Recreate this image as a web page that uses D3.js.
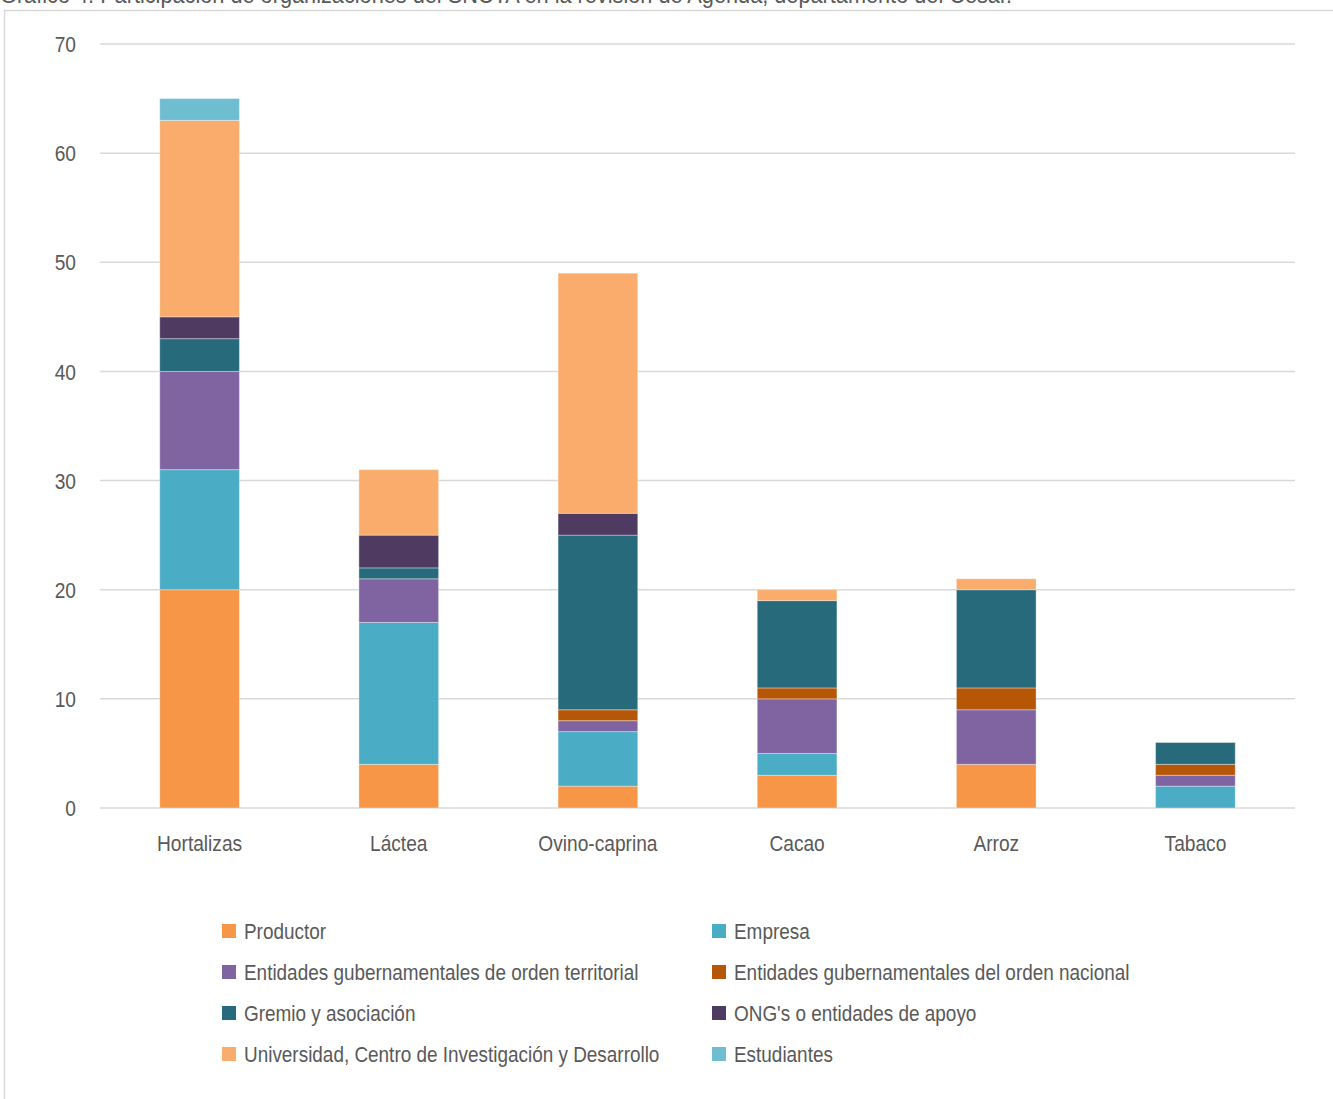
<!DOCTYPE html>
<html>
<head>
<meta charset="utf-8">
<script src="https://cdn.jsdelivr.net/npm/d3@7"></script>
<style>
  body { margin: 0; background: #fff; }
  text { font-family: "Liberation Sans", "DejaVu Sans", sans-serif; fill: #595959; }
</style>
</head>
<body>
<div id="chart"></div>
<script>
var categories = ["Hortalizas", "Láctea", "Ovino-caprina", "Cacao", "Arroz", "Tabaco"];
var seriesNames = [
  "Productor",
  "Empresa",
  "Entidades gubernamentales de orden territorial",
  "Entidades gubernamentales del orden nacional",
  "Gremio y asociación",
  "ONG's o entidades de apoyo",
  "Universidad, Centro de Investigación y Desarrollo",
  "Estudiantes"
];
var productor   = [20, 4, 2, 3, 4, 0];
var empresa     = [11, 13, 5, 2, 0, 2];
var territorial = [9, 4, 1, 5, 5, 1];
var nacional    = [0, 0, 1, 1, 2, 1];
var gremio      = [3, 1, 16, 8, 9, 2];
var ong         = [2, 3, 2, 0, 0, 0];
var universidad = [18, 6, 22, 1, 1, 0];
var estudiantes = [2, 0, 0, 0, 0, 0];
var yTicks = [0, 10, 20, 30, 40, 50, 60, 70];
var colors = ["#F79646", "#4BACC6", "#8064A2", "#B65708", "#276A7C", "#4F3B62", "#F9AC6B", "#6FBDD1"];

var allSeries = [productor, empresa, territorial, nacional, gremio, ong, universidad, estudiantes];
var rows = categories.map(function (c, i) {
  var r = { cat: c };
  seriesNames.forEach(function (s, j) { r[s] = allSeries[j][i]; });
  return r;
});

var W = 1333, H = 1099;
var svg = d3.select("#chart").append("svg")
  .attr("width", W)
  .attr("height", H);

// texto condensado (la fuente original es estrecha)
function condense(sel, k) {
  sel.each(function () {
    var w = this.getComputedTextLength();
    d3.select(this)
      .attr("textLength", w * k)
      .attr("lengthAdjust", "spacingAndGlyphs");
  });
}

// marco y título (cortado arriba)
svg.append("text")
  .attr("x", 0)
  .attr("y", 3)
  .style("font-size", "23px")
  .text("Gráfico 4. Participación de organizaciones del SNCTA en la revisión de Agenda, departamento del Cesar.")
  .attr("textLength", 1012)
  .attr("lengthAdjust", "spacingAndGlyphs");
svg.append("path")
  .attr("d", "M4.5," + H + "V10.5H" + W)
  .attr("fill", "none")
  .attr("stroke", "#d9d9d9")
  .attr("stroke-width", 1.5);

var x = d3.scaleBand()
  .domain(categories)
  .range([100, 1295])
  .paddingInner(0.6)
  .paddingOuter(0.3);

var y = d3.scaleLinear()
  .domain([0, 70])
  .range([808, 44]);

// líneas de cuadrícula
svg.append("g")
  .selectAll("line")
  .data(yTicks)
  .enter().append("line")
  .attr("x1", 100)
  .attr("x2", 1295)
  .attr("y1", function (d) { return y(d); })
  .attr("y2", function (d) { return y(d); })
  .attr("stroke", "#d9d9d9")
  .attr("stroke-width", 1.5);

var yAxis = svg.append("g")
  .attr("transform", "translate(76,0)")
  .call(d3.axisLeft(y).tickValues(yTicks).tickSize(0).tickPadding(0));
yAxis.select(".domain").remove();
yAxis.selectAll("text")
  .style("font-size", "22px")
  .style("font-family", null)
  .attr("fill", null)
  .attr("dy", "0.35em")
  .call(condense, 0.87);

var stack = d3.stack().keys(seriesNames)(rows);

svg.append("g")
  .selectAll("g")
  .data(stack)
  .enter().append("g")
  .attr("fill", function (d, i) { return colors[i]; })
  .selectAll("rect")
  .data(function (d) { return d.filter(function (p) { return p[1] > p[0]; }); })
  .enter().append("rect")
  .attr("x", function (d) { return x(d.data.cat); })
  .attr("y", function (d) { return y(d[1]); })
  .attr("width", x.bandwidth())
  .attr("height", function (d) { return y(d[0]) - y(d[1]); })
  .attr("stroke", "rgba(255,255,255,0.35)")
  .attr("stroke-width", 1);

var xAxis = svg.append("g")
  .attr("transform", "translate(0,808)")
  .call(d3.axisBottom(x).tickSize(0).tickPadding(0));
xAxis.select(".domain").remove();
xAxis.selectAll("text")
  .style("font-size", "22px")
  .style("font-family", null)
  .attr("fill", null)
  .attr("y", 43)
  .attr("dy", 0)
  .call(condense, 0.87);

// leyenda
var legend = svg.append("g");
var items = legend.selectAll("g")
  .data(seriesNames)
  .enter().append("g")
  .attr("transform", function (d, i) {
    return "translate(" + (i % 2 === 0 ? 222 : 712) + "," + (931 + Math.floor(i / 2) * 41) + ")";
  });
items.append("rect")
  .attr("x", 0)
  .attr("y", -7)
  .attr("width", 14)
  .attr("height", 14)
  .attr("fill", function (d, i) { return colors[i]; });
items.append("text")
  .attr("x", 22)
  .attr("y", 0)
  .attr("dy", "0.35em")
  .style("font-size", "22px")
  .text(function (d) { return d; })
  .call(condense, 0.86);
</script>
</body>
</html>
